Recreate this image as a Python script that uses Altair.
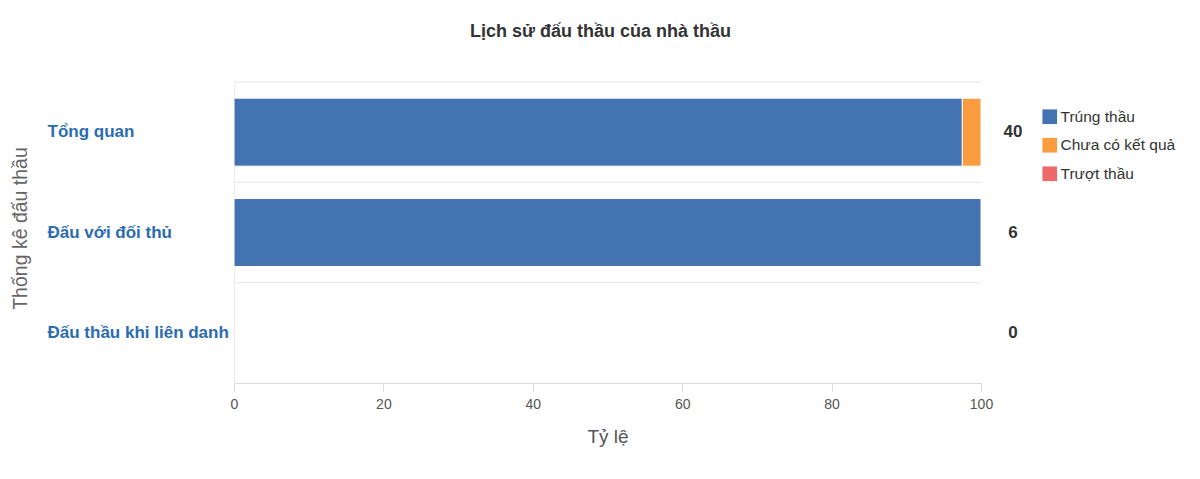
import altair as alt
import pandas as pd

categories = ["Tổng quan", "Đấu với đối thủ", "Đấu thầu khi liên danh"]
series_names = ["Trúng thầu", "Chưa có kết quả", "Trượt thầu"]
trung_thau = [39, 6, 0]
chua_co_ket_qua = [1, 0, 0]
truot_thau = [0, 0, 0]
totals = [40, 6, 0]
x_ticks = [0, 20, 40, 60, 80, 100]
colors = ["#4473B2", "#F89C3F", "#EE6A6A"]

rows = []
for i, c in enumerate(categories):
    for j, (s, vals) in enumerate(zip(series_names, [trung_thau, chua_co_ket_qua, truot_thau])):
        rows.append({"cat": c, "series": s, "order": j, "count": vals[i], "total": totals[i]})
df = pd.DataFrame(rows)
tot_df = pd.DataFrame({"cat": categories, "total": totals})

W, H = 747, 301
FONT = "Liberation Sans"

y_scale = alt.Scale(domain=categories, paddingInner=0, paddingOuter=0)

y_enc = alt.Y(
    "cat:N",
    sort=categories,
    scale=y_scale,
    axis=alt.Axis(
        title="Thống kê đấu thầu",
        titleFont=FONT, titleFontSize=19.5, titleFontWeight="normal", titleColor="#666666",
        titleAngle=-90, titleX=-214, titleY=146, titleAlign="center", titleBaseline="middle",
        labelAlign="left", labelPadding=187, labelLimit=300,
        labelFont=FONT, labelFontSize=17, labelFontWeight="bold", labelColor="#2B6CB0",
        ticks=False, domain=True, domainColor="#ececec", grid=False,
    ),
)

bars = alt.Chart(df).transform_filter(
    "datum.total > 0 && datum.count > 0"
).transform_calculate(
    pct="datum.count / datum.total * 100"
).mark_bar(stroke="white", strokeWidth=1, size=68).encode(
    x=alt.X(
        "pct:Q",
        stack="zero",
        scale=alt.Scale(domain=[0, 100], nice=False),
        axis=alt.Axis(
            title="Tỷ lệ", values=x_ticks, grid=False, ticks=True, tickSize=8,
            tickColor="#dcdcdc", domainColor="#dcdcdc", labelFlush=False,
            labelFont=FONT, labelFontSize=14, labelColor="#555555",
            labelPadding=6, titleFont=FONT, titleFontSize=19, titleFontWeight="normal",
            titleColor="#555555", titlePadding=16,
        ),
    ),
    y=y_enc,
    color=alt.Color(
        "series:N",
        scale=alt.Scale(domain=series_names, range=colors),
        legend=alt.Legend(
            title=None, orient="none", legendX=808, legendY=27,
            symbolType="square", symbolSize=215, symbolStrokeWidth=0,
            labelFont=FONT, labelFontSize=15.5, labelColor="#333333", rowPadding=11.5,
            labelOffset=3,
        ),
    ),
    order=alt.Order("order:Q"),
)

grid = alt.Chart(tot_df).mark_rule(color="#e6e6e6", strokeWidth=1).encode(
    y=alt.Y("cat:N", sort=categories, bandPosition=0),
    x=alt.value(0),
    x2=alt.value(W),
)

labels = alt.Chart(tot_df).mark_text(
    font=FONT, fontSize=17, fontWeight="bold", color="#333333", align="center", baseline="middle"
).encode(
    x=alt.value(779),
    y=alt.Y("cat:N", sort=categories),
    text=alt.Text("total:Q"),
)

chart = alt.layer(bars, grid, labels).properties(
    width=W,
    height=H,
    title=alt.TitleParams(
        "Lịch sử đấu thầu của nhà thầu", font=FONT, fontSize=18, fontWeight="bold",
        color="#333333", anchor="middle", offset=41, dx=-7,
    ),
    autosize=alt.AutoSizeParams(type="none"),
    padding={"left": 226, "top": 74, "right": 211, "bottom": 88},
).configure_view(stroke=None)

chart.save("out.html", embed_options={"renderer": "svg", "actions": False})
